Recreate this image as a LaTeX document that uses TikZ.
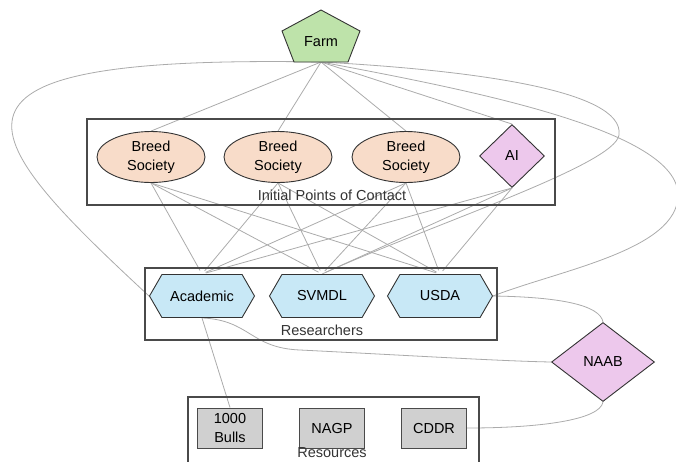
\documentclass[tikz,border=0pt]{standalone}
\usepackage{fontspec}
\setmainfont{Liberation Sans}
\usetikzlibrary{shapes.geometric,shapes.symbols,backgrounds}
\definecolor{farmgreen}{HTML}{BEE3AA}
\definecolor{peach}{HTML}{F8DCC9}
\definecolor{lilac}{HTML}{EDC8EC}
\definecolor{skyblue}{HTML}{C8E8F6}
\definecolor{lgray}{HTML}{D0D0D0}
\definecolor{edgegray}{HTML}{ABABAB}
\definecolor{boxgray}{HTML}{4A4A4A}
\definecolor{labelgray}{HTML}{333333}
\begin{document}
\begin{tikzpicture}[x=1pt,y=-1pt,
  font=\fontsize{14.5}{19}\selectfont,
  group/.style={draw=boxgray, line width=1.1pt, rectangle, inner sep=0},
  link/.style={draw=edgegray, line width=0.8pt},
  society/.style={ellipse, draw=black!80, fill=peach, line width=0.9pt, minimum width=108, minimum height=51, inner sep=0, align=center},
  agency/.style={diamond, draw=black!80, fill=lilac, line width=0.9pt, inner sep=0},
  research/.style={signal, signal to=west and east, signal pointer angle=120, draw=black!80, fill=skyblue, line width=0.9pt, minimum width=105, minimum height=43, inner sep=0},
  resource/.style={rectangle, draw=boxgray, fill=lgray, line width=1pt, minimum width=65, minimum height=40, inner sep=0, align=center},
  grouplabel/.style={text=labelgray, inner sep=0}
]
\useasboundingbox (0,0) rectangle (676,461);

% group boxes
\node[group, minimum width=468, minimum height=86] (contact) at (321,162) {};
\node[group, minimum width=352, minimum height=72] (researchers) at (321,304) {};
\node[group, minimum width=291, minimum height=78] (resources) at (333.5,436) {};

% farm
\draw[fill=farmgreen, draw=black!80, line width=0.9pt] (321,10) -- (360,31) -- (348,62) -- (294,62) -- (282,31) -- cycle;
\node (farm) at (321,42) {Farm};
\coordinate (farmb) at (321,62);

% nodes
\node[society] (bs1) at (151,157) {Breed\\Society};
\node[society] (bs2) at (278,157) {Breed\\Society};
\node[society] (bs3) at (406,157) {Breed\\Society};
\node[agency, minimum width=65, minimum height=63] (ai) at (512,156) {AI};
\node[research] (acad) at (202,296) {Academic};
\node[research] (svmdl) at (322,296) {SVMDL};
\node[research] (usda) at (440,296) {USDA};
\node[resource] (bulls) at (230,428) {1000\\Bulls};
\node[resource] (nagp) at (332,428) {NAGP};
\node[resource] (cddr) at (434,428) {CDDR};
\node[agency, minimum width=103, minimum height=79] (naab) at (603,362) {NAAB};

\node[grouplabel] (lab1) at (332,195) {Initial Points of Contact};
\node[grouplabel] (lab2) at (322,330) {Researchers};
\node[grouplabel] (lab3) at (332,453) {Resources};

\begin{scope}[on background layer]
\draw[link] (farmb) -- (bs1.north);
\draw[link] (farmb) -- (bs2.north);
\draw[link] (farmb) -- (bs3.north);
\draw[link] (farmb) -- (ai.north);
\draw[link] (farmb) .. controls (-90,55) and (-30,130) .. (acad.west);
\draw[link] (farmb) .. controls (470,70) and (625,90) .. (619,135) .. controls (615,165) and (430,225) .. (svmdl.north);
\draw[link] (farmb) .. controls (470,90) and (678,130) .. (678,195) .. controls (678,250) and (560,270) .. (usda.east);
\foreach \s in {bs1,bs2,bs3,ai}
  \foreach \r in {acad,svmdl,usda}
    \draw[link, shorten >=4pt] (\s.south) -- (\r.north);
\draw[link] (acad.south) -- (bulls.north);
\draw[link] (acad.south) .. controls (250,320) and (250,348) .. (300,350) .. controls (420,356) and (500,361) .. (naab.west);
\draw[link] (usda.east) .. controls (560,297) and (600,305) .. (naab.north);
\draw[link] (cddr.east) .. controls (540,428) and (600,420) .. (naab.south);
\end{scope}
\end{tikzpicture}
\end{document}
